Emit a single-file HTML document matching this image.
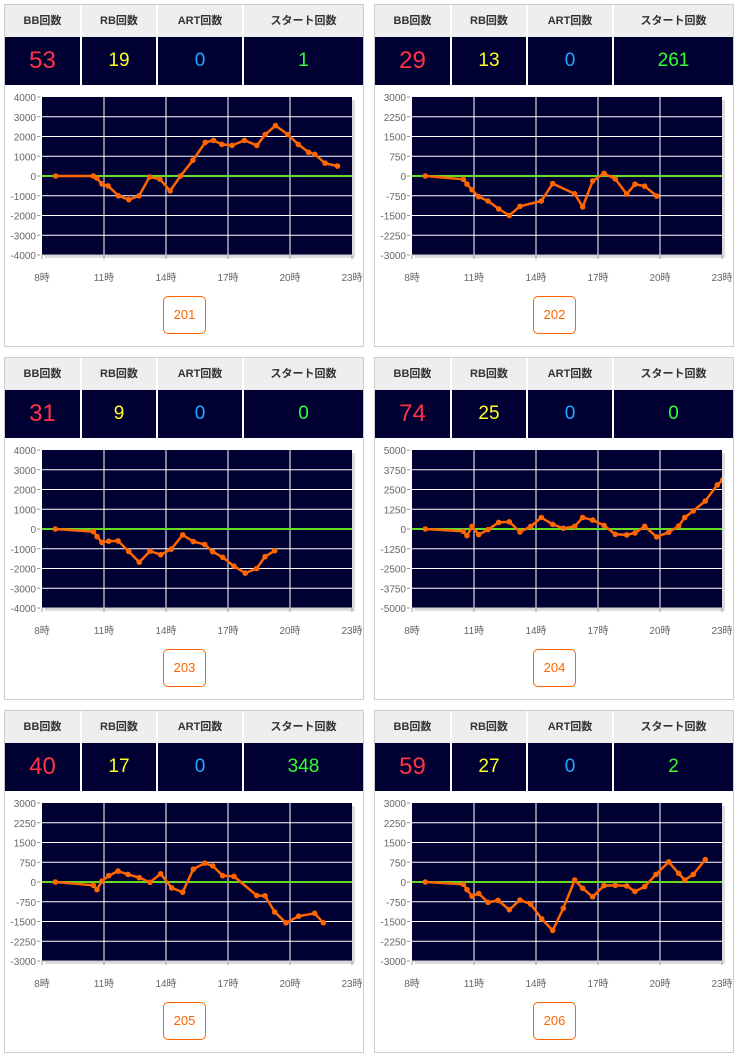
<!DOCTYPE html>
<html><head><meta charset="utf-8"><style>
body{margin:0;background:#fff;width:738px;height:1059px;position:relative;overflow:hidden;font-family:"Liberation Sans","Noto Sans CJK JP",sans-serif}
.p{position:absolute;width:358px;height:341px;border:1px solid #ccc;background:#fff}
.h{position:absolute;top:0;left:0;width:358px;height:32px;background:#eee;display:flex}
.h div,.v div{box-sizing:border-box;border-right:2px solid #fff;text-align:center}
.h div{font-size:11px;font-weight:bold;color:#333;line-height:32px}
.v{position:absolute;top:32px;left:0;width:358px;height:48px;background:#000033;display:flex}
.v div{line-height:48px;font-size:19px}
.c1{width:77px}.c2{width:76px}.c3{width:86px}.c4{width:119px;border-right:none!important}
.btn{position:absolute;left:158px;top:291px;width:41px;height:36px;border:1px solid #f60;border-radius:5px;color:#f60;font-size:13px;text-align:center;line-height:36px}
svg{position:absolute;left:0;top:0}
</style></head><body>
<script>
function Z(a,k){const r=[];for(let i=0;i<a.length;i+=2)r.push([8+(a[i]-18)/62,(261-a[i+1])*k]);return r;}
const P=[
{x:4,y:4,n:['53','19','0','1'],r:4000,st:1000,id:201,d:[[8.66,0],[10.48,0],[10.65,-100],[10.9,-400],[11.2,-500],[11.7,-1000],[12.2,-1200],[12.7,-1000],[13.2,-50],[13.7,-150],[14.2,-750],[14.7,0],[15.3,800],[15.9,1700],[16.3,1800],[16.7,1600],[17.2,1550],[17.8,1800],[18.4,1550],[18.8,2100],[19.3,2550],[19.9,2100],[20.4,1600],[20.9,1200],[21.2,1100],[21.7,650],[22.3,500]]},
{x:374,y:4,n:['29','13','0','261'],r:3000,st:750,id:202,d:Z([58,261,172,271,183,286,198,303,218,324,246,337,278,361,310,381,342,353,406,337,440,284,506,315,530,355,560,276,594,253,628,270,662,316,687,286,716,292,752,322],12.5)},
{x:4,y:357,n:['31','9','0','0'],r:4000,st:1000,id:203,d:Z([58,261,172,269,183,284,198,302,218,298,246,297,278,329,310,362,342,328,374,339,406,322,440,279,472,299,506,308,530,330,560,347,594,374,628,395,662,381,687,345,716,327],16.667)},
{x:374,y:357,n:['74','25','0','0'],r:5000,st:1250,id:204,d:Z([58,261,172,268,183,281,198,253,218,278,246,263,278,241,310,239,342,270,374,253,406,226,440,247,472,259,506,253,530,226,560,234,594,250,628,277,662,279,687,273,716,253,752,285,788,271,818,252,836,226,862,206,898,176,934,127,950,112],20.833)},
{x:4,y:710,n:['40','17','0','348'],r:3000,st:750,id:205,d:Z([58,261,172,271,183,284,198,258,218,242,246,228,276,238,310,248,342,262,374,236,407,279,440,292,472,222,506,204,530,212,560,242,594,244,662,302,687,303,716,352,750,385,788,365,836,356,862,385],12.5)},
{x:374,y:710,n:['59','27','0','2'],r:3000,st:750,id:206,d:Z([58,261,172,268,183,284,198,304,218,296,246,323,276,317,310,345,342,316,374,328,407,373,440,408,472,341,506,255,530,280,560,306,594,272,628,271,662,273,687,290,716,275,750,238,788,200,818,235,836,255,862,238,898,193],12.5)}];
let h='';
for(const p of P){
 const L=37,T=92,W=310,H=158;
 const X=t=>L+(t-8)*W/15, Y=v=>T+H/2-v*H/(2*p.r);
 let s=`<svg width="358" height="290"><defs><clipPath id="c${p.id}"><rect x="${L-4}" y="${T-4}" width="${W+4}" height="${H+8}"/></clipPath></defs><rect x="${L+3}" y="${T+3}" width="${W}" height="${H}" fill="#ddd"/><rect x="${L}" y="${T}" width="${W}" height="${H}" fill="#000033"/>`;
 for(let i=0;i<=8;i++){const y=T+i*H/8;const v=p.r-i*p.st;
  if(i>0&&i<8)s+=`<line x1="${L}" x2="${L+W}" y1="${y}" y2="${y}" stroke="#fff" stroke-width="1"/>`;
  s+=`<line x1="${L-5}" x2="${L-2}" y1="${y}" y2="${y}" stroke="#999"/><text x="${L-6}" y="${y+4}" font-size="10" fill="#666" text-anchor="end">${v}</text>`;}
 for(let i=0;i<=5;i++){const x=L+i*W/5;
  if(i>0&&i<5)s+=`<line x1="${x}" x2="${x}" y1="${T}" y2="${T+H}" stroke="#fff"/>`;
  s+=`<line x1="${x}" x2="${x}" y1="${T+H}" y2="${T+H+4}" stroke="#999"/><text x="${x}" y="${T+H+26}" font-size="10" fill="#666" text-anchor="middle">${8+i*3}時</text>`;}
 s+=`<line x1="${L}" x2="${L+W}" y1="${T+H}" y2="${T+H}" stroke="#ccc"/>`;
 s+=`<line x1="${L}" x2="${L+W}" y1="${Y(0)}" y2="${Y(0)}" stroke="#66dd22" stroke-width="2"/>`;
 const pts=p.d.map(q=>[X(q[0]).toFixed(1),Y(q[1]).toFixed(1)]);
 s+=`<g clip-path="url(#c${p.id})"><polyline points="${pts.map(a=>a.join(',')).join(' ')}" fill="none" stroke="#ff6600" stroke-width="2.5"/>`;
 for(const a of pts)s+=`<circle cx="${a[0]}" cy="${a[1]}" r="2.8" fill="#ff6600"/>`;
 s+='</g></svg>';
 h+=`<div class="p" style="left:${p.x}px;top:${p.y}px">${s}<div class="h"><div class="c1">BB回数</div><div class="c2">RB回数</div><div class="c3">ART回数</div><div class="c4">スタート回数</div></div><div class="v"><div class="c1" style="color:#ff3344;font-size:24px">${p.n[0]}</div><div class="c2" style="color:#ffff22">${p.n[1]}</div><div class="c3" style="color:#22aaff">${p.n[2]}</div><div class="c4" style="color:#33ff33">${p.n[3]}</div></div><div class="btn">${p.id}</div></div>`;
}
document.body.innerHTML+=h;
</script>
</body></html>
